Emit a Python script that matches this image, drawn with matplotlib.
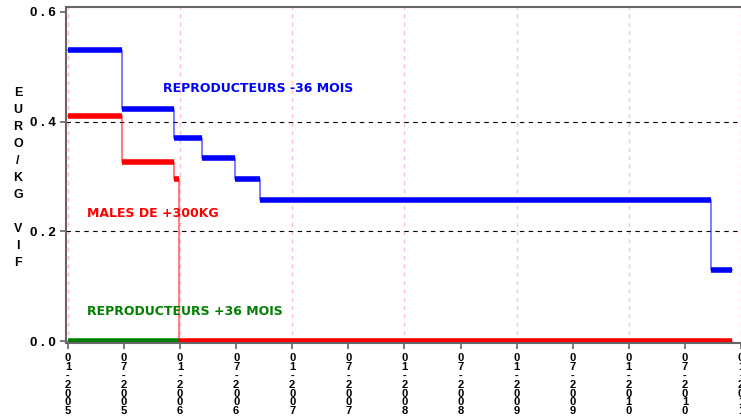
import matplotlib
matplotlib.use('Agg')
import matplotlib.pyplot as plt

# x in months since 01-2005
tick_labels = ['01-2005', '07-2005', '01-2006', '07-2006', '01-2007', '07-2007',
               '01-2008', '07-2008', '01-2009', '07-2009', '01-2010', '07-2010', '01-2011']
tick_pos = [0, 6, 12, 18, 24, 30, 36, 42, 48, 54, 60, 66, 72]

blue_x = [0, 5.8, 11.4, 14.4, 17.9, 20.6, 68.8, 71.0]
blue_y = [0.53, 0.423, 0.37, 0.333, 0.296, 0.258, 0.13]

red_x = [0, 5.8, 11.4, 11.9, 71.0]
red_y = [0.41, 0.327, 0.295, 0.0]

green_x = [0, 11.9]
green_y = [0.0]

plt.rcParams['font.family'] = ['Liberation Sans', 'DejaVu Sans']

fig = plt.figure(figsize=(7.41, 4.19), dpi=100)
ax = fig.add_axes([66/741, 1 - 343/419, 1 - 66/741, (343 - 7)/419])


def draw(xs, ys, color):
    # thin connectors + thick horizontal levels
    ax.step(xs, ys + [ys[-1]], where='post', color=color, lw=1.3, alpha=0.55)
    ax.hlines(ys, xs[:-1], xs[1:], color=color, lw=4, capstyle='butt')


draw(green_x, green_y, '#008000')
draw(red_x, red_y, '#ff0000')
draw(blue_x, blue_y, '#0000ff')

for x in range(0, 73, 12):
    ax.axvline(x, color='#ffc0cb', ls=(0, (3, 3)), lw=1, zorder=0)
for y in [0.2, 0.4]:
    ax.axhline(y, color='black', ls=(0, (4, 4)), lw=0.8, zorder=0)

ax.set_xlim(-0.2, 72.0)
ax.set_ylim(-0.0036, 0.609)

ax.set_xticks(tick_pos)
ax.set_xticklabels(['\n'.join(t) for t in tick_labels], fontsize=8, fontweight='bold',
                   linespacing=0.85, va='top')
ax.set_yticks([0, 0.2, 0.4, 0.6])
ax.set_yticklabels(['0 . 0', '0 . 2', '0 . 4', '0 . 6'], fontsize=9.5, fontweight='bold')

ax.spines['right'].set_visible(False)
for s in ['left', 'bottom', 'top']:
    ax.spines[s].set_color('#666666')
    ax.spines[s].set_linewidth(1.5)
ax.tick_params(colors='#666666', labelcolor='black', length=4, width=1.2)

lab_font = ['DejaVu Sans']
ax.text(10.2, 0.46, 'REPRODUCTEURS -36 MOIS', color='#0000ff', fontsize=9,
        fontweight='bold', va='center', family=lab_font)
ax.text(2.0, 0.233, 'MALES DE +300KG', color='#ff0000', fontsize=9,
        fontweight='bold', va='center', family=lab_font)
ax.text(2.0, 0.0545, 'REPRODUCTEURS +36 MOIS', color='#008000', fontsize=9,
        fontweight='bold', va='center', family=lab_font)

fig.text(18/741, 1 - 178/419, '\n'.join('EURO/KG VIF'), fontsize=9, fontweight='bold',
         ha='center', va='center', linespacing=1.55)

fig.savefig('out.png', dpi=100)
